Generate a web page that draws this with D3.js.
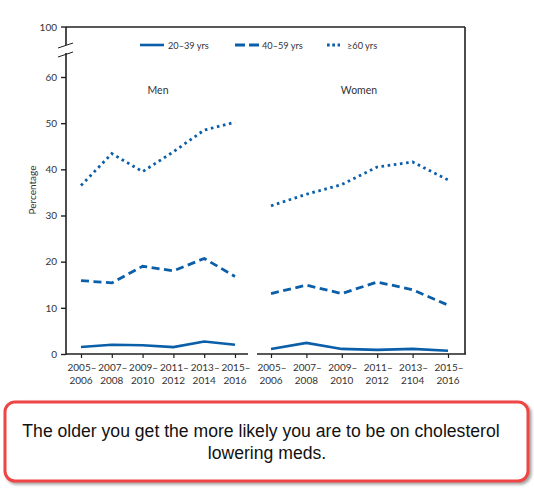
<!DOCTYPE html>
<html><head><meta charset="utf-8">
<script src="https://cdn.jsdelivr.net/npm/d3@7"></script>
<style>
body{margin:0;background:#fff;}
svg{display:block;}
</style></head>
<body>
<script>
const periodsTop = ["2005–","2007–","2009–","2011–","2013–","2015–"];
const menPeriodsBottom = ["2006","2008","2010","2012","2014","2016"];
const womenPeriodsBottom = ["2006","2008","2010","2012","2104","2016"];
const seriesNames = ["20–39 yrs","40–59 yrs","≥60 yrs"];
const men20_39 = [1.5, 2.0, 1.9, 1.5, 2.7, 2.0];
const men40_59 = [15.9, 15.4, 19.0, 18.0, 20.7, 16.8];
const men60 = [36.5, 43.4, 39.5, 43.8, 48.5, 50.2];
const women20_39 = [1.1, 2.4, 1.1, 0.9, 1.1, 0.7];
const women40_59 = [13.1, 14.9, 13.1, 15.6, 13.9, 10.6];
const women60 = [32.1, 34.6, 36.7, 40.5, 41.6, 37.7];
const yTicks = [0,10,20,30,40,50,60];

const W=534,H=488;
const svg=d3.select("body").append("svg").attr("width",W).attr("height",H);
const blue="#0b5ea8", axisC="#231f20", txt="#333";
const font="Lato, 'Open Sans', sans-serif";

const y=d3.scaleLinear().domain([0,60]).range([354,77]);

const xMen=d3.scalePoint().domain(d3.range(6)).range([81,235]);
const xWomen=d3.scalePoint().domain(d3.range(6)).range([271,448]);

const g=svg.append("g");
const axisTop=27;
g.append("line").attr("x1",66).attr("x2",465).attr("y1",axisTop).attr("y2",axisTop).attr("stroke",axisC).attr("stroke-width",1.6);
g.append("line").attr("x1",465).attr("x2",465).attr("y1",axisTop).attr("y2",354).attr("stroke",axisC).attr("stroke-width",1.6);
g.append("line").attr("x1",66).attr("x2",66).attr("y1",axisTop).attr("y2",45).attr("stroke",axisC).attr("stroke-width",1.6);
g.append("line").attr("x1",66).attr("x2",66).attr("y1",53).attr("y2",354.8).attr("stroke",axisC).attr("stroke-width",1.6);
g.append("line").attr("x1",58).attr("x2",73).attr("y1",48).attr("y2",43).attr("stroke",axisC).attr("stroke-width",1);
g.append("line").attr("x1",58).attr("x2",73).attr("y1",57).attr("y2",52).attr("stroke",axisC).attr("stroke-width",1);
g.append("line").attr("x1",61).attr("x2",66).attr("y1",axisTop).attr("y2",axisTop).attr("stroke",axisC).attr("stroke-width",1.4);
g.append("text").attr("x",57).attr("y",axisTop+3.5).attr("text-anchor","end").attr("font-family",font).attr("font-size",10).attr("fill",txt).text("100");

const yAxis=d3.axisLeft(y).tickValues(yTicks).tickSize(5).tickPadding(4);
const ya=g.append("g").attr("transform","translate(66,0)").call(yAxis);
ya.select(".domain").remove();
ya.selectAll("line").attr("stroke",axisC).attr("stroke-width",1.4);
ya.selectAll("text").attr("font-family",font).attr("font-size",10).attr("fill",txt);

g.append("text").attr("transform","translate(36,190) rotate(-90)").attr("text-anchor","middle")
 .attr("font-family",font).attr("font-size",10).attr("fill",txt).text("Percentage");

function xAxisPanel(xs,x0,x1,bottoms){
  const ax=d3.axisBottom(xs).tickSize(4).tickFormat(()=>"");
  const a=g.append("g").attr("transform","translate(0,354)").call(ax);
  a.select(".domain").remove();
  a.selectAll("line").attr("stroke",axisC).attr("stroke-width",1.2);
  g.append("line").attr("x1",x0).attr("x2",x1).attr("y1",354).attr("y2",354).attr("stroke",axisC).attr("stroke-width",1.6);
  d3.range(6).forEach(i=>{
    const t=g.append("text").attr("text-anchor","middle").attr("font-family",font).attr("font-size",10).attr("fill",txt);
    t.append("tspan").attr("x",xs(i)+1).attr("y",371).text(periodsTop[i]);
    t.append("tspan").attr("x",xs(i)).attr("y",384).text(bottoms[i]);
  });
}
xAxisPanel(xMen,66,248,menPeriodsBottom);
xAxisPanel(xWomen,257,466,womenPeriodsBottom);

const styles=[
  {w:2.6,dash:null},
  {w:2.8,dash:"8,4.5"},
  {w:2.8,dash:"2.6,3.6"}
];
function drawLine(xs,data,st){
  const line=d3.line().x((d,i)=>xs(i)).y(d=>y(d));
  const p=g.append("path").datum(data).attr("d",line).attr("fill","none").attr("stroke",blue)
    .attr("stroke-width",st.w).attr("stroke-linejoin","miter");
  if(st.dash)p.attr("stroke-dasharray",st.dash);
}
[[men20_39,0],[men40_59,1],[men60,2]].forEach(([d,k])=>drawLine(xMen,d,styles[k]));
[[women20_39,0],[women40_59,1],[women60,2]].forEach(([d,k])=>drawLine(xWomen,d,styles[k]));

g.append("text").attr("x",158).attr("y",94).attr("text-anchor","middle").attr("font-family",font).attr("font-size",10.5).attr("fill",txt).text("Men");
g.append("text").attr("x",359).attr("y",94).attr("text-anchor","middle").attr("font-family",font).attr("font-size",10.5).attr("fill",txt).text("Women");

const leg=[{x1:140,x2:164,tx:168},{x1:235,x2:259,tx:262},{x1:327,x2:340,tx:347}];
leg.forEach((l,i)=>{
  const ln=g.append("line").attr("x1",l.x1).attr("x2",l.x2).attr("y1",45).attr("y2",45).attr("stroke",blue).attr("stroke-width",styles[i].w);
  if(i==1)ln.attr("stroke-dasharray","10,4");
  if(i==2)ln.attr("stroke-dasharray","2.7,2.6");
  g.append("text").attr("x",l.tx).attr("y",48.5).attr("font-family",font).attr("font-size",9.2).attr("fill",txt).text(seriesNames[i]);
});

const defs=svg.append("defs");
const f=defs.append("filter").attr("id","sh").attr("x","-5%").attr("y","-10%").attr("width","110%").attr("height","130%");
f.append("feDropShadow").attr("dx",2).attr("dy",2).attr("stdDeviation",1.5).attr("flood-color","#777").attr("flood-opacity",0.7);
svg.append("rect").attr("x",5).attr("y",402).attr("width",523).attr("height",79).attr("rx",10).attr("ry",10)
  .attr("fill","#fff").attr("stroke","#ee4444").attr("stroke-width",3).attr("filter","url(#sh)");
const at=svg.append("text").attr("text-anchor","middle").attr("font-family","'Liberation Sans', Arial, sans-serif").attr("font-size",17.6).attr("fill","#111");
at.append("tspan").attr("x",261).attr("y",437).text("The older you get the more likely you are to be on cholesterol");
at.append("tspan").attr("x",267).attr("y",459).text("lowering meds.");
</script>
</body></html>
